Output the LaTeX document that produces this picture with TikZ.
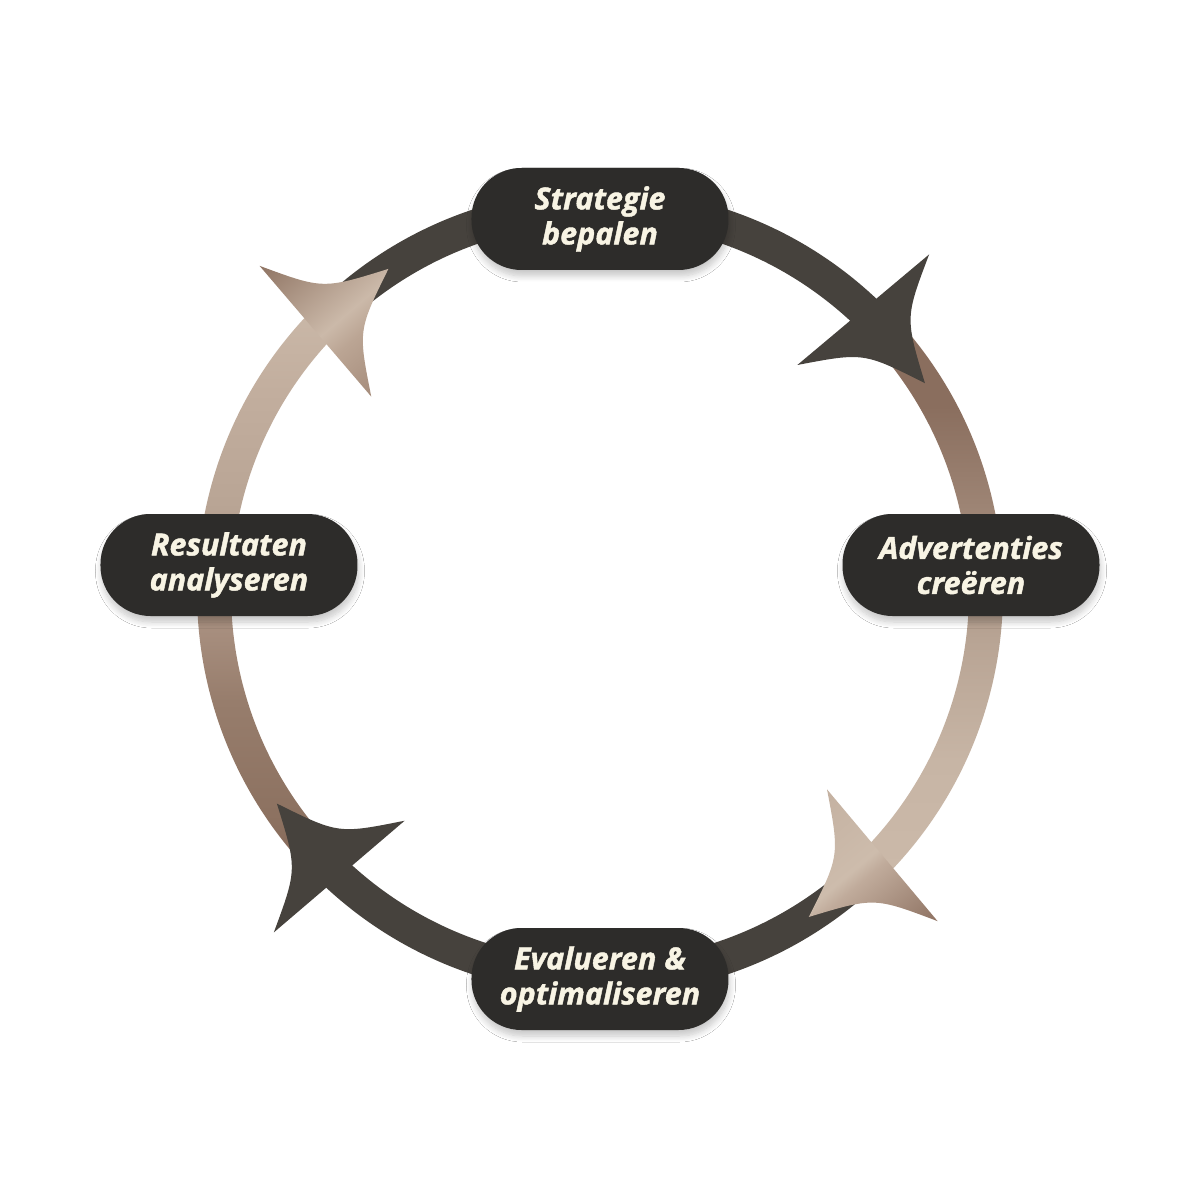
\documentclass[tikz,border=0pt]{standalone}
\usepackage{fontspec}
\setmainfont{Open Sans}[BoldItalicFeatures={FakeBold=1.4}]
\usetikzlibrary{shadows.blur}
\definecolor{ringdark}{HTML}{46423D}
\definecolor{nodebg}{HTML}{2D2C2A}
\definecolor{nodetext}{HTML}{F8F4E4}
% right band
\definecolor{rb0}{HTML}{CBB9A9}
\definecolor{rb1}{HTML}{C7B5A5}
\definecolor{rb2}{HTML}{B8A494}
\definecolor{rb3}{HTML}{9D8474}
\definecolor{rb4}{HTML}{8A6E5E}
% left band
\definecolor{lb0}{HTML}{86695A}
\definecolor{lb1}{HTML}{8C7160}
\definecolor{lb2}{HTML}{977D6C}
\definecolor{lb3}{HTML}{A68D7D}
\definecolor{lb4}{HTML}{B9A595}
\definecolor{lb5}{HTML}{C2AE9E}
\definecolor{lb6}{HTML}{C9B7A7}
% arrow A
\definecolor{aa0}{HTML}{C4B1A1}
\definecolor{aa1}{HTML}{CDBCAC}
\definecolor{aa2}{HTML}{C0AB9B}
\definecolor{aa3}{HTML}{8E7262}
% arrow B
\definecolor{ab0}{HTML}{A58C7B}
\definecolor{ab1}{HTML}{BBA594}
\definecolor{ab2}{HTML}{CBB9A9}
\definecolor{ab3}{HTML}{8F7463}
\pgfdeclareverticalshading{shRight}{100bp}{color(0bp)=(rb0); color(25bp)=(rb0); color(35bp)=(rb1); color(46bp)=(rb2); color(58bp)=(rb3); color(67bp)=(rb4); color(100bp)=(rb4)}
\pgfdeclareverticalshading{shLeft}{100bp}{color(0bp)=(lb0); color(26bp)=(lb0); color(29bp)=(lb1); color(40bp)=(lb2); color(46bp)=(lb3); color(58bp)=(lb4); color(68bp)=(lb5); color(75bp)=(lb6); color(100bp)=(lb6)}
\pgfdeclareverticalshading{shArrA}{100bp}{color(0bp)=(aa0); color(25bp)=(aa0); color(48bp)=(aa1); color(52bp)=(aa2); color(75bp)=(aa3); color(100bp)=(aa3)}
\pgfdeclareverticalshading{shArrB}{100bp}{color(0bp)=(ab0); color(25bp)=(ab0); color(41bp)=(ab1); color(48bp)=(ab2); color(75bp)=(ab3); color(100bp)=(ab3)}
\tikzset{
  arrowhd/.style={insert path={(96,0) .. controls (33,27) .. (0,86) -- (0,-86) .. controls (33,-27) .. (96,0) -- cycle}},
  stage/.style={rectangle, rounded corners=50pt, fill=nodebg, minimum width=257pt, minimum height=102pt,
    inner sep=0pt, text=nodetext, align=center, font=\fontsize{30.5}{35}\selectfont\bfseries\itshape,
    blur shadow={shadow xshift=1pt, shadow yshift=-6pt, shadow blur radius=6pt, shadow opacity=22, shadow blur steps=10}}
}
\begin{document}
\begin{tikzpicture}[x=1pt,y=1pt]
\fill[white] (-600,-608) rectangle (600,592);
\useasboundingbox (-600,-608) rectangle (600,592);
% bands
\fill[ringdark] (133:403) arc[start angle=133,end angle=46,radius=403] -- (46:369) arc[start angle=46,end angle=133,radius=369] -- cycle;
\shade[shading=shRight] (43:403) arc[start angle=43,end angle=-44,radius=403] -- (-44:369) arc[start angle=-44,end angle=43,radius=369] -- cycle;
\fill[ringdark] (-47:403) arc[start angle=-47,end angle=-133.5,radius=403] -- (-133.5:369) arc[start angle=-133.5,end angle=-47,radius=369] -- cycle;
\shade[shading=shLeft] (-137:403) arc[start angle=-137,end angle=-223.5,radius=403] -- (-223.5:369) arc[start angle=-223.5,end angle=-137,radius=369] -- cycle;
% arrowheads
\begin{scope}[shift={(47:386)}, rotate=-50] \fill[ringdark, arrowhd]; \end{scope}
\begin{scope}[transform canvas={shift={(-43:386)}, rotate=-140}] \shade[shading=shArrA, arrowhd]; \end{scope}
\begin{scope}[shift={(-132.5:386)}, rotate=-229.5] \fill[ringdark, arrowhd]; \end{scope}
\begin{scope}[transform canvas={shift={(137.5:386)}, rotate=40.5}] \shade[shading=shArrB, arrowhd]; \end{scope}
% nodes
\node[stage] (strategie) at (0,373) {Strategie\\bepalen};
\node[stage] (advert) at (371,27) {Advertenties\\creëren};
\node[stage] (evalueren) at (0,-387) {Evalueren \&\\optimaliseren};
\node[stage] (resultaten) at (-371,27) {Resultaten\\analyseren};
\end{tikzpicture}
\end{document}
